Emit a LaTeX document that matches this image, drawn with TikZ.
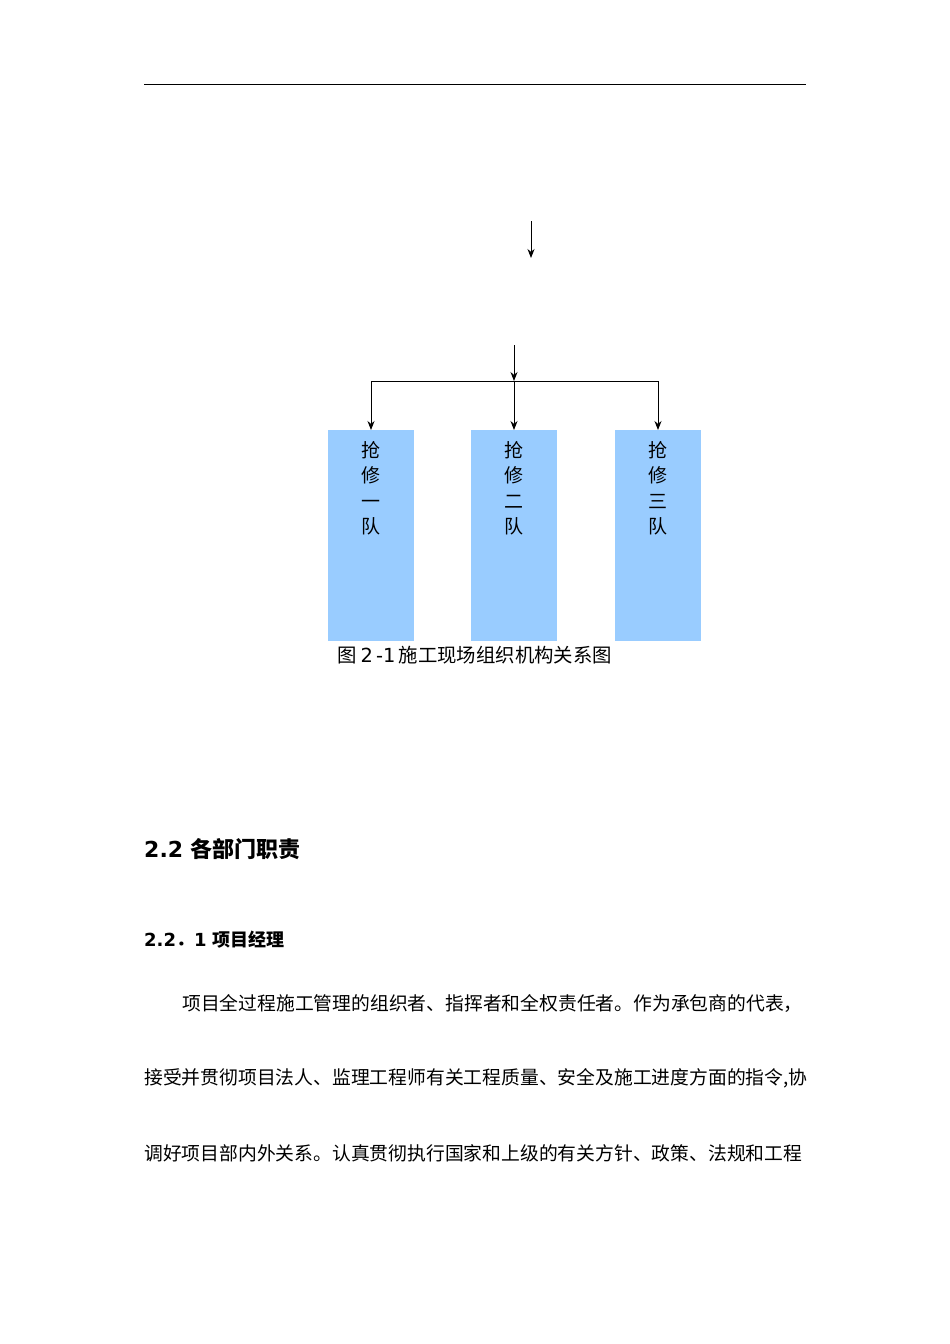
\documentclass[tikz,border=0pt]{standalone}
\usepackage{fontspec}
\setmainfont{DejaVu Sans}
\newfontfamily\cjk{Noto Sans CJK SC}
\usetikzlibrary{arrows.meta}
\definecolor{boxblue}{HTML}{99CCFF}
\begin{document}
\begin{tikzpicture}[x=1pt,y=-1pt,
  teambox/.style={fill=boxblue,draw=none,minimum width=86pt,minimum height=211pt,anchor=north,inner sep=0pt},
  conn/.style={-{Stealth[length=9pt,width=7pt]},line width=0.9pt},
  plain/.style={line width=0.9pt},
  para/.style={anchor=west,inner sep=0pt,font=\fontsize{18.8}{22}\selectfont\cjk}]
\useasboundingbox[fill=white] (0,0) rectangle (950,1344);
\draw[line width=0.8pt] (144,84) -- (806,84);
\coordinate (a1) at (531,221); \coordinate (a2) at (531,258);
\draw[conn] (a1) -- (a2);
\coordinate (b1) at (514,345); \coordinate (b2) at (514,381);
\draw[conn] (b1) -- (b2);
\node[teambox] (t1) at (371,430) {};
\node[teambox] (t2) at (514,430) {};
\node[teambox] (t3) at (658,430) {};
\coordinate (h1) at (371,381); \coordinate (h3) at (658,381);
\draw[plain] (h1) -- (h3);
\draw[conn] (h1) -- (t1.north);
\draw[conn] (b2) -- (t2.north);
\draw[conn] (h3) -- (t3.north);
\foreach \n/\c in {t1/一,t2/二,t3/三}{
  \node[anchor=north,align=center,inner sep=0pt,font=\fontsize{19}{25.5}\selectfont\cjk] at ([yshift=-11pt]\n.north) {抢\\修\\\c\\队};
}
\node[inner sep=0pt,font=\fontsize{19.4}{22}\selectfont] (cap) at (475,655) {{\cjk 图}\,2\,-1\,{\cjk 施工现场组织机构关系图}};
\node[anchor=west,inner sep=0pt,font=\fontsize{22}{26}\selectfont\bfseries] (h22) at (144,849) {2.2 {\cjk\bfseries 各部门职责}};
\node[anchor=west,inner sep=0pt,font=\fontsize{18}{22}\selectfont\bfseries] (h221) at (144,940) {2.2{\cjk\bfseries ．}1 {\cjk\bfseries 项目经理}};
\node[para] (p1) at (182,1003) {项目全过程施工管理的组织者、指挥者和全权责任者。作为承包商的代表，};
\node[para] (p2) at (144,1078) {接受并贯彻项目法人、监理工程师有关工程质量、安全及施工进度方面的指令,协};
\node[para] (p3) at (144,1153) {调好项目部内外关系。认真贯彻执行国家和上级的有关方针、政策、法规和工程};
\end{tikzpicture}
\end{document}
